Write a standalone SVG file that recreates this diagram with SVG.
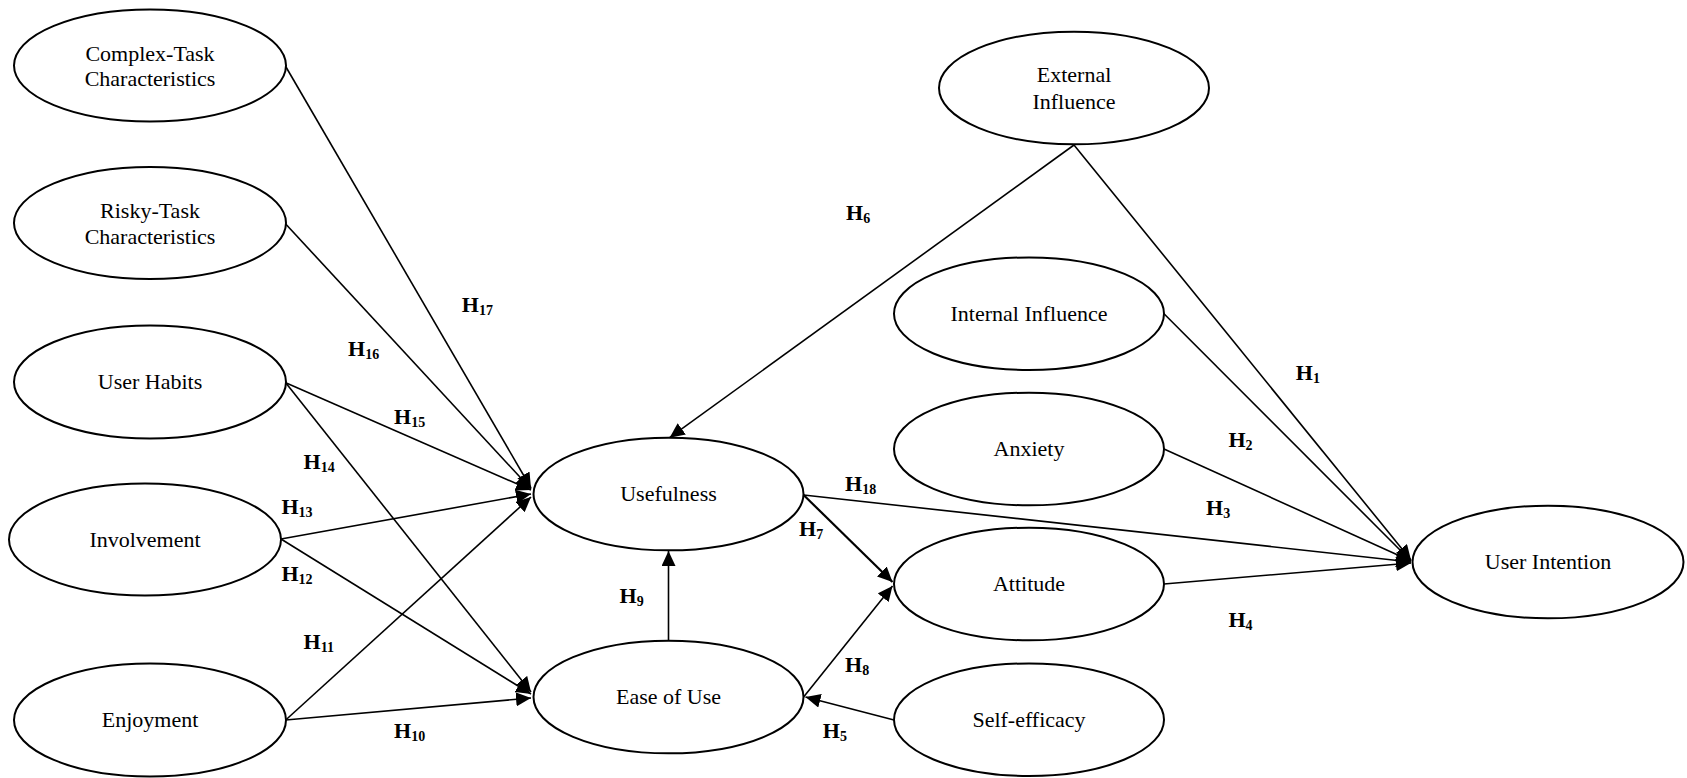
<svg xmlns="http://www.w3.org/2000/svg" width="1687" height="778" viewBox="0 0 1687 778">
<style>
.node ellipse{fill:#fff;stroke:#000;stroke-width:2}
.node text{font-family:"Liberation Serif","Times New Roman",serif;font-size:22px;text-anchor:middle;fill:#000}
#connectors line{stroke:#000;stroke-width:1.6;fill:none}
.lbl{font-family:"Liberation Serif","Times New Roman",serif;font-size:22px;font-weight:bold;fill:#000}
.lbl .sub{font-size:14px}
</style>
<defs>
<marker id="arr" markerUnits="userSpaceOnUse" markerWidth="16" markerHeight="14" refX="15" refY="7" orient="auto">
<path d="M0,0 L15,7 L0,14 z" fill="#000"/>
</marker>
</defs>
<rect width="1687" height="778" fill="#fff"/>
<g id="connectors">
<line x1="285.7" y1="66.5" x2="531" y2="488" marker-end="url(#arr)"/>
<line x1="285.7" y1="224" x2="531" y2="489" marker-end="url(#arr)"/>
<line x1="285.7" y1="382.7" x2="531" y2="490" marker-end="url(#arr)"/>
<line x1="281" y1="539" x2="531" y2="494" marker-end="url(#arr)"/>
<line x1="285.7" y1="720" x2="531" y2="497" marker-end="url(#arr)"/>
<line x1="285.7" y1="382.7" x2="531" y2="692" marker-end="url(#arr)"/>
<line x1="281" y1="539" x2="531" y2="694" marker-end="url(#arr)"/>
<line x1="285.7" y1="720" x2="531" y2="698" marker-end="url(#arr)"/>
<line x1="668.5" y1="640.7" x2="668.5" y2="551" marker-end="url(#arr)"/>
<line x1="803.6" y1="495" x2="892.5" y2="582" marker-end="url(#arr)" style="stroke-width:2.2"/>
<line x1="803.6" y1="697" x2="892.5" y2="586" marker-end="url(#arr)"/>
<line x1="894" y1="720" x2="805.5" y2="697" marker-end="url(#arr)"/>
<line x1="1074" y1="145" x2="669.6" y2="437.7" marker-end="url(#arr)"/>
<line x1="1074" y1="145" x2="1411" y2="560" marker-end="url(#arr)"/>
<line x1="1164" y1="313.7" x2="1411" y2="561" marker-end="url(#arr)"/>
<line x1="1164" y1="449" x2="1411" y2="561" marker-end="url(#arr)"/>
<line x1="803.6" y1="495" x2="1411" y2="562" marker-end="url(#arr)"/>
<line x1="1164" y1="584" x2="1411" y2="563" marker-end="url(#arr)"/>
</g>
<g id="n-complex" class="node"><ellipse cx="150" cy="65.5" rx="136" ry="56"/><text x="150" y="60.5">Complex-Task</text><text x="150" y="86">Characteristics</text></g>
<g id="n-risky" class="node"><ellipse cx="150" cy="223" rx="136" ry="56"/><text x="150" y="218.3">Risky-Task</text><text x="150" y="244">Characteristics</text></g>
<g id="n-habits" class="node"><ellipse cx="150" cy="382" rx="136" ry="56.5"/><text x="150" y="388.5">User Habits</text></g>
<g id="n-involvement" class="node"><ellipse cx="145" cy="539.5" rx="136" ry="56"/><text x="145" y="546.5">Involvement</text></g>
<g id="n-enjoyment" class="node"><ellipse cx="150" cy="720" rx="136" ry="56.5"/><text x="150" y="727">Enjoyment</text></g>
<g id="n-usefulness" class="node"><ellipse cx="668.5" cy="494" rx="135" ry="56.3"/><text x="668.5" y="501">Usefulness</text></g>
<g id="n-ease" class="node"><ellipse cx="668.5" cy="697" rx="135" ry="56.3"/><text x="668.5" y="704">Ease of Use</text></g>
<g id="n-external" class="node"><ellipse cx="1074" cy="88" rx="135" ry="56.3"/><text x="1074" y="81.7">External</text><text x="1074" y="109">Influence</text></g>
<g id="n-internal" class="node"><ellipse cx="1029" cy="313.7" rx="135" ry="56.3"/><text x="1029" y="321">Internal Influence</text></g>
<g id="n-anxiety" class="node"><ellipse cx="1029" cy="449" rx="135" ry="56.3"/><text x="1029" y="456">Anxiety</text></g>
<g id="n-attitude" class="node"><ellipse cx="1029" cy="584" rx="135" ry="56.3"/><text x="1029" y="591">Attitude</text></g>
<g id="n-selfefficacy" class="node"><ellipse cx="1029" cy="719.7" rx="135" ry="56.3"/><text x="1029" y="727">Self-efficacy</text></g>
<g id="n-intention" class="node"><ellipse cx="1548" cy="562" rx="135.5" ry="56.3"/><text x="1548" y="569">User Intention</text></g>
<g id="labels">
<text class="lbl" x="461.8" y="311.7">H<tspan class="sub" dy="3">17</tspan></text>
<text class="lbl" x="348" y="356">H<tspan class="sub" dy="3">16</tspan></text>
<text class="lbl" x="394" y="424">H<tspan class="sub" dy="3">15</tspan></text>
<text class="lbl" x="303.6" y="469.3">H<tspan class="sub" dy="3">14</tspan></text>
<text class="lbl" x="281.4" y="514">H<tspan class="sub" dy="3">13</tspan></text>
<text class="lbl" x="281.4" y="581">H<tspan class="sub" dy="3">12</tspan></text>
<text class="lbl" x="303.6" y="649.3">H<tspan class="sub" dy="3">11</tspan></text>
<text class="lbl" x="394" y="738.3">H<tspan class="sub" dy="3">10</tspan></text>
<text class="lbl" x="619.6" y="603.3">H<tspan class="sub" dy="3">9</tspan></text>
<text class="lbl" x="799" y="536">H<tspan class="sub" dy="3">7</tspan></text>
<text class="lbl" x="845" y="490.7">H<tspan class="sub" dy="3">18</tspan></text>
<text class="lbl" x="845" y="671.7">H<tspan class="sub" dy="3">8</tspan></text>
<text class="lbl" x="822.8" y="737.7">H<tspan class="sub" dy="3">5</tspan></text>
<text class="lbl" x="846" y="220">H<tspan class="sub" dy="3">6</tspan></text>
<text class="lbl" x="1295.8" y="380">H<tspan class="sub" dy="3">1</tspan></text>
<text class="lbl" x="1228.4" y="446.7">H<tspan class="sub" dy="3">2</tspan></text>
<text class="lbl" x="1206" y="515">H<tspan class="sub" dy="3">3</tspan></text>
<text class="lbl" x="1228.4" y="626.7">H<tspan class="sub" dy="3">4</tspan></text>
</g>
</svg>
